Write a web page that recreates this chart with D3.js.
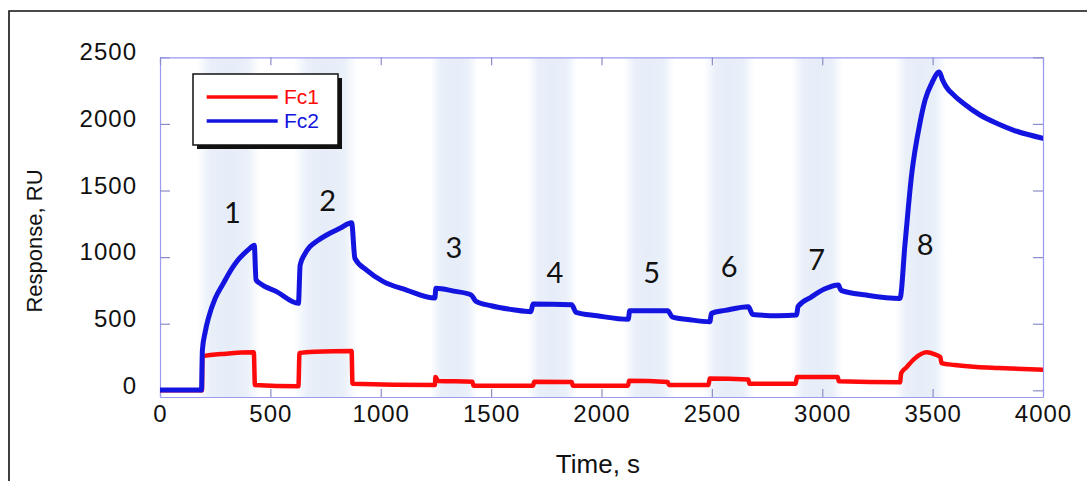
<!DOCTYPE html>
<html><head><meta charset="utf-8">
<script src="https://cdn.jsdelivr.net/npm/d3@7"></script>
<style>
html,body{margin:0;padding:0;background:#fff;}
svg{display:block;}
</style></head>
<body>
<svg id="chart" width="1087" height="481"></svg>
<script>
// ---- data ----
const fc2Time = [0,188,192,205,221,250,287,320,347,380,407,427,435,453,528,627,635,655,679,715,755,815,868,883,936,1012,1117,1245,1250,1330,1410,1430,1500,1600,1680,1690,1865,1885,1980,2121,2128,2300,2320,2400,2491,2498,2560,2665,2685,2800,2884,2890,2950,3010,3073,3085,3200,3352,3375,3405,3443,3466,3496,3530,3545,3561,3600,3639,3715,3790,3865,4000];
const fc2Resp = [2,2,300,440,552,690,803,900,966,1025,1066,1090,830,803,741,653,940,1020,1078,1125,1166,1216,1258,991,903,816,753,693,766,745,716,670,635,605,590,648,642,585,560,533,598,598,552,530,515,578,600,628,570,560,566,628,700,760,791,750,715,690,1100,1620,2010,2180,2305,2390,2330,2280,2210,2155,2067,2005,1954,1892];
const fc1Time = [0,190,192,300,425,430,627,632,700,868,872,1245,1248,1260,1415,1420,1690,1695,1865,1870,2120,2125,2300,2305,2485,2490,2665,2670,2880,2885,3070,3075,3352,3358,3380,3420,3473,3510,3535,3540,3600,3700,3800,4000];
const fc1Resp = [0,0,255,275,285,40,30,280,290,295,50,40,100,70,65,35,35,65,62,35,35,72,62,40,40,88,82,50,50,100,100,68,60,130,170,240,285,270,250,205,190,175,168,155];
const bandStart = [190,630,1250,1690,2125,2490,2885,3355];
const bandEnd   = [430,870,1415,1865,2305,2668,3070,3535];
const bandLabels = ["1","2","3","4","5","6","7","8"];
const labelTime = [328,759,1332,1789,2227,2578,2975,3466];
const labelResp = [1254,1349,993,806,806,853,903,1016];
const xTicks = [0,500,1000,1500,2000,2500,3000,3500,4000];
const yTicks = [0,500,1000,1500,2000,2500];
const seriesNames = ["Fc1","Fc2"];
const xTitle = "Time, s";
const yTitle = "Response, RU";

// ---- layout ----
const L = 160, R = 1043, T = 57.3, B = 397;
const svg = d3.select("#chart");
const x = d3.scaleLinear().domain([0,4000]).range([L,R]);
const y = d3.scaleLinear().domain([-50,2500]).range([B,T]);
const colors = ["#ff0a0a","#1414e0"];
const tickFont = "'Liberation Sans', Arial, Helvetica, sans-serif";

// outer border
svg.append("path").attr("d","M9,490 L9,11 L1100,11").attr("fill","none").attr("stroke","#111").attr("stroke-width",1.6);

// gradient for bands
const defs = svg.append("defs");
const g = defs.append("linearGradient").attr("id","band").attr("x1","0").attr("x2","1").attr("y1","0").attr("y2","0");
[[0,0],[0.22,0.85],[0.5,1],[0.78,0.85],[1,0]].forEach(([o,a])=>g.append("stop").attr("offset",o).attr("stop-color","#e6edf8").attr("stop-opacity",a));
defs.append("clipPath").attr("id","clip").append("rect").attr("x",L).attr("y",T).attr("width",R-L).attr("height",B-T);

const bands = bandStart.map((s,i)=>({s, e: bandEnd[i]}));
svg.append("g").attr("clip-path","url(#clip)").selectAll("rect").data(bands).join("rect")
  .attr("x",d=>x(d.s-25)).attr("width",d=>x(d.e+25)-x(d.s-25))
  .attr("y",T).attr("height",B-T).attr("fill","url(#band)");

// axes
const axisCol = "#9a9af0";
const fmt = d3.format("d");
const ax = svg.append("g").attr("transform",`translate(0,${B})`)
  .call(d3.axisBottom(x).tickValues(xTicks).tickFormat(fmt).tickSize(-8).tickSizeOuter(0).tickPadding(8));
const ay = svg.append("g").attr("transform",`translate(${L},0)`)
  .call(d3.axisLeft(y).tickValues(yTicks).tickFormat(fmt).tickSize(-10).tickSizeOuter(0).tickPadding(23));
const axT = svg.append("g").attr("transform",`translate(0,${T})`)
  .call(d3.axisTop(x).tickValues(xTicks).tickSize(-8).tickSizeOuter(0).tickFormat(""));
const ayR = svg.append("g").attr("transform",`translate(${R},0)`)
  .call(d3.axisRight(y).tickValues(yTicks).tickSize(-10).tickSizeOuter(0).tickFormat(""));
[ax,ay,axT,ayR].forEach(a=>{
  a.select(".domain").attr("stroke",axisCol).attr("stroke-width",1.2);
  a.selectAll(".tick line").attr("stroke","#8c8cc8").attr("stroke-width",1.2);
  a.selectAll("text").attr("fill","#111").style("font-family",tickFont).style("font-size","24px").style("letter-spacing","1px");
});
ay.selectAll("text").attr("y",-5);

// axis titles
svg.append("text").attr("x",598).attr("y",473).attr("text-anchor","middle")
  .style("font-family",tickFont).style("font-size","26px").attr("fill","#111").text(xTitle);
svg.append("text").attr("transform","translate(42,241) rotate(-90)").attr("text-anchor","middle")
  .style("font-family",tickFont).style("font-size","22px").attr("fill","#111").text(yTitle);

// lines
const line = d3.line().x(d=>x(d[0])).y(d=>y(d[1])).curve(d3.curveMonotoneX);
const s1 = fc1Time.map((t,i)=>[t,fc1Resp[i]]);
const s2 = fc2Time.map((t,i)=>[t,fc2Resp[i]]);
const lg = svg.append("g").attr("clip-path","url(#clip)");
lg.append("path").attr("d",line(s1)).attr("fill","none").attr("stroke",colors[0]).attr("stroke-width",4.5).attr("stroke-linejoin","round").attr("stroke-linecap","round");
lg.append("path").attr("d",line(s2)).attr("fill","none").attr("stroke",colors[1]).attr("stroke-width",5).attr("stroke-linejoin","round").attr("stroke-linecap","round");

// injection labels
svg.append("g").selectAll("text").data(bandLabels).join("text")
  .attr("x",(d,i)=>x(labelTime[i])).attr("y",(d,i)=>y(labelResp[i]))
  .attr("text-anchor","middle").style("font-family","Lato, 'Open Sans', sans-serif").style("font-size","29px").attr("fill","#111")
  .text(d=>d);

// legend
const leg = svg.append("g");
leg.append("rect").attr("x",197).attr("y",78).attr("width",145).attr("height",71).attr("fill","#111");
leg.append("rect").attr("x",193).attr("y",74).attr("width",145).attr("height",71).attr("fill","#fff").attr("stroke","#111").attr("stroke-width",1.5);
seriesNames.forEach((n,i)=>{
  const yy = 97 + i*24;
  leg.append("line").attr("x1",206.7).attr("x2",277.7).attr("y1",yy).attr("y2",yy).attr("stroke",colors[i]).attr("stroke-width",3.5);
  leg.append("text").attr("x",284).attr("y",yy+6.5).style("font-family",tickFont).style("font-size","21px").attr("fill",colors[i]).text(n);
});
</script>
</body></html>
